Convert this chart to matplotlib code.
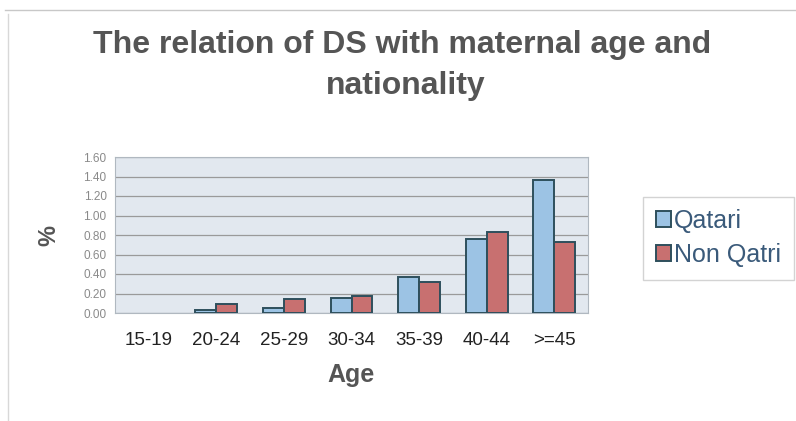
import numpy as np
import matplotlib.pyplot as plt
from matplotlib.lines import Line2D
from matplotlib.patches import Patch

age_groups = ['15-19', '20-24', '25-29', '30-34', '35-39', '40-44', '>=45']
qatari = [0.00, 0.03, 0.05, 0.15, 0.37, 0.76, 1.36]
non_qatari = [0.00, 0.09, 0.14, 0.17, 0.32, 0.83, 0.73]

plt.rcParams['font.family'] = ['Liberation Sans', 'DejaVu Sans']

fig = plt.figure(figsize=(7.96, 4.21), dpi=100)
ax = fig.add_axes([115 / 796, 1 - 313 / 421, 473 / 796, 156 / 421])

x = np.arange(len(age_groups))
w = 0.31
edge = '#2e4f5c'
blue, red = '#9cc3e4', '#c87070'
bq = ax.bar(x - w / 2, qatari, w, color=blue, edgecolor=edge, linewidth=1.4, zorder=3)
bn = ax.bar(x + w / 2, non_qatari, w, color=red, edgecolor=edge, linewidth=1.4, zorder=3)
# empty categories get no outline
for bars in (bq, bn):
    for b in bars:
        if b.get_height() == 0:
            b.set_edgecolor('none')

ax.set_facecolor('#e2e8ef')
ax.set_xlim(-0.5, len(age_groups) - 0.5)
ax.set_ylim(0, 1.6)
ticks = np.arange(0, 1.61, 0.2)
ax.set_yticks(ticks)
ax.set_yticklabels([f'{v:.2f}' for v in ticks], fontsize=8.5, color='#8a8a8a')
ax.yaxis.grid(True, color='#9a9a9a', linewidth=0.9, zorder=0)
ax.set_xticks(x)
ax.set_xticklabels(age_groups, fontsize=13.5, color='#222222')
ax.tick_params(axis='x', length=0, pad=14)
ax.tick_params(axis='y', length=0, pad=6)
for s in ax.spines.values():
    s.set_color('#b0b8c0')

ax.set_xlabel('Age', fontsize=18, fontweight='bold', color='#555555', labelpad=10)
ax.set_ylabel('%', fontsize=17, fontweight='bold', color='#555555', labelpad=17)

fig.text(0.505, 1 - 45 / 421, 'The relation of DS with maternal age and', ha='center', va='center',
         fontsize=23, fontweight='bold', color='#555555')
fig.text(0.51, 1 - 86 / 421, 'nationality', ha='center', va='center',
         fontsize=23, fontweight='bold', color='#555555')

handles = [Patch(facecolor=blue, edgecolor=edge, linewidth=1.4, label='Qatari'),
           Patch(facecolor=red, edgecolor=edge, linewidth=1.4, label='Non Qatri')]
leg = fig.legend(handles=handles, loc='center left', bbox_to_anchor=(643 / 796, 1 - 238 / 421),
                 fontsize=18, frameon=True, fancybox=False, handlelength=0.6, handleheight=0.6,
                 handletextpad=0.15, labelspacing=0.4, borderpad=0.5, borderaxespad=0,
                 labelcolor='#3a5a7a')
leg.get_frame().set_edgecolor('#c8c8c8')
leg.get_frame().set_linewidth(1.0)

# faint outer frame lines
fig.add_artist(Line2D([5 / 796, 1], [1 - 10 / 421] * 2, color='#c8c8c8', linewidth=1.0))
fig.add_artist(Line2D([8 / 796] * 2, [0, 1 - 14 / 421], color='#d8d8d8', linewidth=1.0))

fig.savefig('out.png', dpi=100)
